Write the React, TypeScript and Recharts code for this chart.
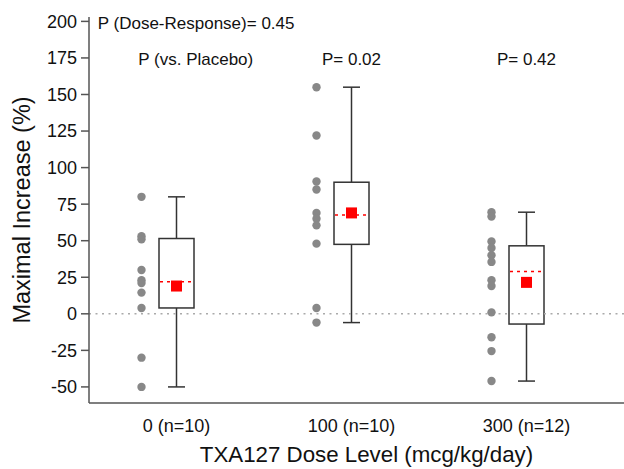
import { Bar, ComposedChart, ReferenceLine, Scatter, XAxis, YAxis } from "recharts";

const groups = ["0 (n=10)", "100 (n=10)", "300 (n=12)"];
const pLabels = ["P (vs. Placebo)", "P= 0.02", "P= 0.42"];
const pLabelX = [0.61, 1.5, 2.5];
const pLabelY = 174;
const trendLabel = "P (Dose-Response)= 0.45";

// individual subjects
const dose0 = [80, 53, 51, 30, 23, 21, 14.5, 4, -30, -50];
const dose100 = [155, 122, 90.5, 85, 69, 65, 60.5, 48, 4, -6];
const dose300 = [69.5, 66.5, 49.5, 45, 40, 35.5, 23, 19, 1, -16, -25.5, -46];

const mins = [-50, -6, -46];
const q1s = [4, 47.5, -7];
const medians = [22, 67.5, 29];
const q3s = [51.5, 90, 46.5];
const maxs = [80, 155, 69.5];
const means = [19, 69, 21.5];

const yTicks = [-50, -25, 0, 25, 50, 75, 100, 125, 150, 175, 200];

const FONT = "'Liberation Sans', Arial, sans-serif";

const boxData = groups.map((name, i) => ({
	name,
	range: [mins[i], maxs[i]],
	min: mins[i],
	q1: q1s[i],
	median: medians[i],
	q3: q3s[i],
	max: maxs[i],
}));

const pointData = [dose0, dose100, dose300].flatMap((vals, i) =>
	vals.map((v) => ({ x: i + 0.3, y: v })),
);
const meanData = means.map((m, i) => ({ x: i + 0.5, y: m }));
const labelData = pLabels.map((t, i) => ({ x: pLabelX[i], y: pLabelY, text: t }));
const trendData = [{ x: 0.05, y: 199, text: trendLabel }];

const BoxShape = (props: any) => {
	const { x, y, width, height, payload } = props;
	if (!payload) return null;
	const top = Math.min(y, y + height);
	const h = Math.abs(height);
	const { min, max, q1, q3, median } = payload;
	const toY = (v: number) => top + (h * (max - v)) / (max - min);
	const cx = x + width / 2;
	const cap = 8.5;
	const stroke = "#333";
	return (
		<g>
			<line x1={cx} x2={cx} y1={toY(max)} y2={toY(q3)} stroke={stroke} strokeWidth={1.5} />
			<line x1={cx} x2={cx} y1={toY(q1)} y2={toY(min)} stroke={stroke} strokeWidth={1.5} />
			<line x1={cx - cap} x2={cx + cap} y1={toY(max)} y2={toY(max)} stroke={stroke} strokeWidth={1.5} />
			<line x1={cx - cap} x2={cx + cap} y1={toY(min)} y2={toY(min)} stroke={stroke} strokeWidth={1.5} />
			<rect
				x={x}
				y={toY(q3)}
				width={width}
				height={toY(q1) - toY(q3)}
				fill="#fff"
				stroke={stroke}
				strokeWidth={1.5}
			/>
			<line
				x1={x + 1}
				x2={x + width - 1}
				y1={toY(median)}
				y2={toY(median)}
				stroke="#ff0000"
				strokeWidth={1.5}
				strokeDasharray="3 4"
			/>
		</g>
	);
};

const TextShape = (anchor: "start" | "middle") => (props: any) => (
	<text
		x={props.cx}
		y={props.cy}
		dy="0.35em"
		textAnchor={anchor}
		fontSize={17}
		fontFamily={FONT}
		fill="#111"
	>
		{props.payload.text}
	</text>
);

const XTitle = (props: any) => {
	const { viewBox } = props;
	return (
		<text
			x={viewBox.x + viewBox.width / 2 + 10}
			y={462}
			textAnchor="middle"
			fontSize={22.3}
			fontFamily={FONT}
			fill="#111"
		>
			TXA127 Dose Level (mcg/kg/day)
		</text>
	);
};

const YTitle = (props: any) => {
	const { viewBox } = props;
	const cy = viewBox.y + viewBox.height / 2;
	return (
		<text
			x={22}
			y={cy}
			transform={`rotate(-90, 22, ${cy})`}
			textAnchor="middle"
			dominantBaseline="central"
			fontSize={23.5}
			fontFamily={FONT}
			fill="#111"
		>
			Maximal Increase (%)
		</text>
	);
};

export default function App() {
	return (
		<div style={{ position: "absolute", left: 0, top: 0, width: 624, height: 469, background: "#fff" }}>
			<ComposedChart
				width={624}
				height={469}
				data={boxData}
				margin={{ top: 17, right: 0, left: 0, bottom: 0 }}
				accessibilityLayer={false}
			>
				<XAxis
					xAxisId="cat"
					dataKey="name"
					type="category"
					padding={{ left: 0, right: 10 }}
					height={66}
					stroke="#555"
					strokeWidth={1.5}
					tickLine={false}
					tickMargin={10}
					tick={{ fontSize: 18, fill: "#111", fontFamily: FONT }}
					label={<XTitle />}
				/>
				<XAxis
					xAxisId="num"
					dataKey="x"
					type="number"
					domain={[0, 3]}
					padding={{ left: 0, right: 10 }}
					allowDataOverflow
					hide
				/>
				<YAxis
					type="number"
					domain={[-61, 203]}
					ticks={yTicks}
					allowDataOverflow
					width={89}
					stroke="#555"
					strokeWidth={1.5}
					tickSize={8}
					tickMargin={4}
					tick={{ fontSize: 18, fill: "#111", fontFamily: FONT }}
					label={<YTitle />}
				/>
				<ReferenceLine
					y={0}
					xAxisId="cat"
					stroke="#aaa"
					strokeWidth={1.5}
					strokeDasharray="2 4.5"
				/>
				<Bar
					xAxisId="cat"
					dataKey="range"
					barSize={35}
					shape={<BoxShape />}
					isAnimationActive={false}
				/>
				<Scatter
					xAxisId="num"
					data={pointData}
					dataKey="y"
					fill="#888"
					shape={(p: any) => <circle cx={p.cx} cy={p.cy} r={4.2} fill="#888" />}
					isAnimationActive={false}
				/>
				<Scatter
					xAxisId="num"
					data={meanData}
					dataKey="y"
					shape={(p: any) => (
						<rect x={p.cx - 5.5} y={p.cy - 5.5} width={11} height={11} fill="#ff0000" />
					)}
					isAnimationActive={false}
				/>
				<Scatter
					xAxisId="num"
					data={labelData}
					dataKey="y"
					shape={TextShape("middle")}
					isAnimationActive={false}
				/>
				<Scatter
					xAxisId="num"
					data={trendData}
					dataKey="y"
					shape={TextShape("start")}
					isAnimationActive={false}
				/>
			</ComposedChart>
		</div>
	);
}
